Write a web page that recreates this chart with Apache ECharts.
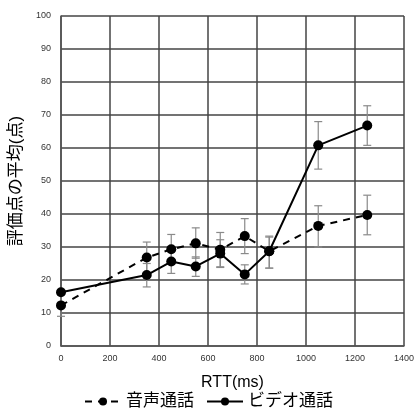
<!DOCTYPE html>
<html>
<head>
<meta charset="utf-8">
<script src="https://cdn.jsdelivr.net/npm/echarts@6/dist/echarts.min.js"></script>
<style>
  html, body { margin: 0; padding: 0; background: #fff; }
  #chart { width: 417px; height: 409px; }
</style>
</head>
<body>
<div id="chart"></div>
<script>
const rtt = [0, 350, 450, 550, 650, 750, 850, 1050, 1250];
const audioMean = [12.3, 26.8, 29.3, 31.1, 29.2, 33.3, 28.7, 36.4, 39.7];
const audioLow = [9.0, 21.8, 24.8, 26.6, 24.0, 28.0, 23.6, 30.0, 33.7];
const audioHigh = [15.6, 31.5, 33.8, 35.8, 34.4, 38.6, 33.3, 42.5, 45.7];
const videoMean = [16.3, 21.5, 25.6, 24.1, 28.0, 21.7, 28.7, 60.8, 66.8];
const videoLow = [16.3, 17.9, 22.0, 21.1, 23.8, 18.8, 23.6, 53.6, 60.8];
const videoHigh = [16.3, 25.0, 29.3, 27.0, 32.2, 24.6, 33.0, 68.0, 72.8];
const audioName = '音声通話';
const videoName = 'ビデオ通話';

const font = '"Liberation Sans", "Noto Sans CJK JP", sans-serif';

function errorData(low, high) {
  return rtt.map((x, i) => [x, low[i], high[i]]);
}

function renderError(params, api) {
  const x = api.value(0);
  const lo = api.coord([x, api.value(1)]);
  const hi = api.coord([x, api.value(2)]);
  const w = 4;
  const style = { stroke: '#8a8a8a', lineWidth: 1.2 };
  return {
    type: 'group',
    children: [
      { type: 'line', shape: { x1: lo[0], y1: lo[1], x2: hi[0], y2: hi[1] }, style },
      { type: 'line', shape: { x1: lo[0] - w, y1: lo[1], x2: lo[0] + w, y2: lo[1] }, style },
      { type: 'line', shape: { x1: hi[0] - w, y1: hi[1], x2: hi[0] + w, y2: hi[1] }, style }
    ]
  };
}

const chart = echarts.init(document.getElementById('chart'));
chart.setOption({
  animation: false,
  grid: { left: 61, right: 12, top: 16, bottom: 63 },
  legend: {
    top: 388,
    left: 'center',
    itemWidth: 36,
    itemHeight: 10,
    itemGap: 12,
    textStyle: { fontFamily: font, fontSize: 17, color: '#000' },
    data: [audioName, videoName]
  },
  xAxis: {
    type: 'value',
    min: 0, max: 1400, interval: 200,
    name: 'RTT(ms)',
    nameLocation: 'middle',
    nameGap: 29,
    nameTextStyle: { fontFamily: font, fontSize: 16, color: '#000' },
    axisLine: { show: true, lineStyle: { color: '#555', width: 1.5 } },
    axisTick: { show: false },
    axisLabel: { fontFamily: font, fontSize: 9, color: '#333', margin: 8, formatter: v => String(v) },
    splitLine: { show: true, lineStyle: { color: '#444', width: 1.5 } }
  },
  yAxis: {
    type: 'value',
    min: 0, max: 100, interval: 10,
    name: '評価点の平均(点)',
    nameLocation: 'middle',
    nameGap: 31,
    nameTextStyle: { fontFamily: font, fontSize: 17, color: '#000' },
    axisLine: { show: true, lineStyle: { color: '#555', width: 1.5 } },
    axisTick: { show: false },
    axisLabel: { fontFamily: font, fontSize: 9, color: '#333', margin: 10 },
    splitLine: { show: true, lineStyle: { color: '#444', width: 1.5 } }
  },
  series: [
    {
      type: 'custom',
      renderItem: renderError,
      data: errorData(audioLow, audioHigh),
      encode: { x: 0, y: [1, 2] },
      z: 3,
      silent: true
    },
    {
      type: 'custom',
      renderItem: renderError,
      data: errorData(videoLow, videoHigh),
      encode: { x: 0, y: [1, 2] },
      z: 3,
      silent: true
    },
    {
      name: audioName,
      type: 'line',
      data: rtt.map((x, i) => [x, audioMean[i]]),
      symbol: 'circle',
      symbolSize: 10,
      itemStyle: { color: '#000' },
      lineStyle: { color: '#000', width: 2, type: [7, 6] },
      z: 4
    },
    {
      name: videoName,
      type: 'line',
      data: rtt.map((x, i) => [x, videoMean[i]]),
      symbol: 'circle',
      symbolSize: 10,
      itemStyle: { color: '#000' },
      lineStyle: { color: '#000', width: 2 },
      z: 5
    }
  ]
});
</script>
</body>
</html>
